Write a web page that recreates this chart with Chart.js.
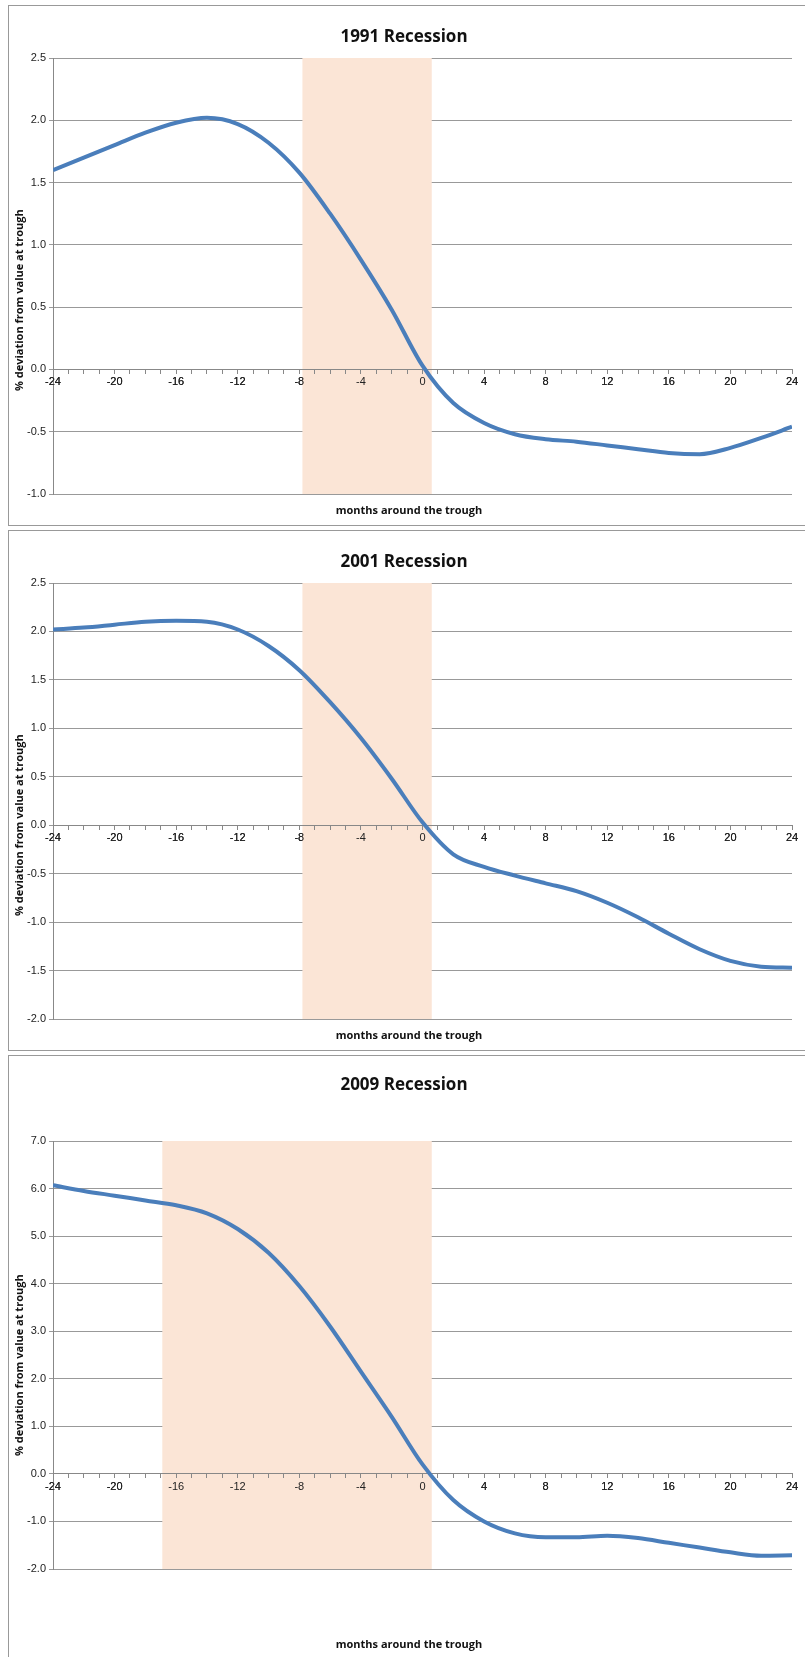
<!DOCTYPE html>
<html><head><meta charset="utf-8">
<script src="https://cdn.jsdelivr.net/npm/chart.js@4/dist/chart.umd.min.js"></script>
<style>
body{margin:0;background:#fff;width:805px;height:1657px;overflow:hidden;position:relative;font-family:"Open Sans",sans-serif}
.panel{position:absolute;left:8px;width:800px;border:1px solid #999;box-sizing:border-box;background:#fff}
.panel canvas{position:absolute;left:0;top:0}
.ttl{position:absolute;left:0;width:790px;text-align:center;font-weight:bold;font-size:17px;color:#111}
.xt{position:absolute;left:0;width:800px;text-align:center;font-weight:bold;font-size:11px;color:#111}
.yt{position:absolute;font-weight:bold;font-size:11px;color:#111;transform:rotate(-90deg);transform-origin:left top;white-space:nowrap}
</style></head><body>
<div class="panel" style="top:5px;height:521px"><canvas id="c1"></canvas><div class="ttl" style="top:18px">1991 Recession</div><div class="xt" style="top:496px">months around the trough</div><div class="yt" style="left:2px;top:385px">% deviation from value at trough</div></div>
<div class="panel" style="top:530px;height:521px"><canvas id="c2"></canvas><div class="ttl" style="top:18px">2001 Recession</div><div class="xt" style="top:496px">months around the trough</div><div class="yt" style="left:2px;top:385px">% deviation from value at trough</div></div>
<div class="panel" style="top:1055px;height:610px"><canvas id="c3"></canvas><div class="ttl" style="top:16px">2009 Recession</div><div class="xt" style="top:580px">months around the trough</div><div class="yt" style="left:2px;top:400px">% deviation from value at trough</div></div>
<script>
const months = [-24,-22,-20,-18,-16,-14,-12,-10,-8,-6,-4,-2,0,2,4,6,8,10,12,14,16,18,20,22,24];
const dev1991 = [1.6,1.7,1.8,1.9,1.98,2.02,1.97,1.82,1.58,1.25,0.88,0.48,0.03,-0.27,-0.43,-0.52,-0.56,-0.58,-0.61,-0.64,-0.67,-0.68,-0.63,-0.55,-0.46];
const dev2001 = [2.02,2.04,2.07,2.1,2.11,2.1,2.02,1.85,1.6,1.27,0.9,0.48,0.03,-0.3,-0.43,-0.52,-0.6,-0.68,-0.8,-0.95,-1.12,-1.28,-1.4,-1.46,-1.47];
const dev2009 = [6.07,5.95,5.85,5.75,5.65,5.48,5.15,4.65,3.95,3.1,2.15,1.2,0.2,-0.55,-1.0,-1.25,-1.33,-1.33,-1.3,-1.35,-1.45,-1.55,-1.65,-1.72,-1.71];
const band1991 = [-7.8, 0.6], band2001 = [-7.8, 0.6], band2009 = [-16.9, 0.6];

// shaded recession band, then the zero axis is drawn again on top of it
const bandPlugin = {
  id: 'band',
  beforeDatasetsDraw(chart, args, opts) {
    const {ctx, chartArea, scales} = chart;
    const x0 = scales.x.getPixelForValue(opts.from), x1 = scales.x.getPixelForValue(opts.to);
    ctx.save();
    ctx.fillStyle = '#fbe5d6';
    ctx.fillRect(x0, chartArea.top, x1 - x0, chartArea.bottom - chartArea.top);
    ctx.restore();
    scales.x.draw(chartArea);
  }
};

function makeChart(id, h, data, band, ymin, ymax, step, top, bottom) {
  const cv = document.getElementById(id);
  cv.width = 797; cv.height = h;
  new Chart(cv, {
    type: 'line',
    data: { datasets: [{ data: months.map((m, i) => ({x: m, y: data[i]})),
      borderColor: '#4a7ebb', borderWidth: 4, pointRadius: 0, cubicInterpolationMode: 'monotone', fill: false }] },
    options: {
      responsive: false, animation: false, devicePixelRatio: 1,
      layout: { padding: { top: top, bottom: bottom, right: 14, left: 0 } },
      plugins: { legend: { display: false }, tooltip: { enabled: false }, band: { from: band[0], to: band[1] } },
      scales: {
        x: { type: 'linear', position: { y: 0 }, min: -24, max: 24,
          ticks: { stepSize: 1, autoSkip: false, maxRotation: 0, color: '#222', font: { size: 11 }, padding: 2,
            callback: v => (v % 4 === 0 ? String(v) : '') },
          grid: { drawOnChartArea: false, tickLength: 4, color: '#888' }, border: { color: '#888' } },
        y: { min: ymin, max: ymax,
          ticks: { stepSize: step, color: '#222', font: { size: 11 }, callback: v => v.toFixed(1) },
          grid: { color: '#999', tickLength: 4 }, border: { color: '#888' },
          afterFit: s => { s.width = 44; } }
      }
    },
    plugins: [bandPlugin]
  });
}
makeChart('c1', 519, dev1991, band1991, -1, 2.5, 0.5, 52, 31);
makeChart('c2', 519, dev2001, band2001, -2, 2.5, 0.5, 52, 31);
makeChart('c3', 608, dev2009, band2009, -2, 7, 1, 85, 95);
</script></body></html>
